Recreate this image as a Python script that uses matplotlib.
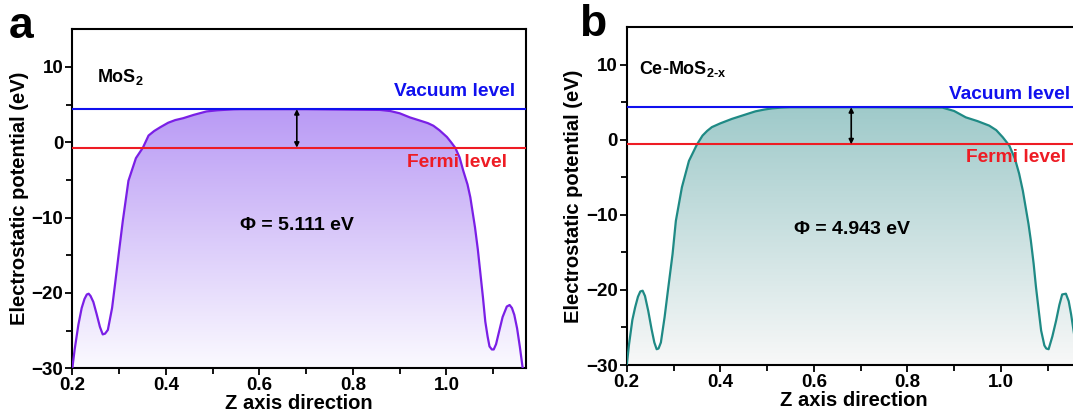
import numpy as np
import matplotlib
matplotlib.use("Agg")
import matplotlib.pyplot as plt
from matplotlib.colors import LinearSegmentedColormap

plt.rcParams['font.family'] = ['Liberation Sans', 'DejaVu Sans']
plt.rcParams['font.weight'] = 'bold'
plt.rcParams['mathtext.fontset'] = 'custom'
plt.rcParams['mathtext.rm'] = 'Liberation Sans:bold'
plt.rcParams['mathtext.it'] = 'Liberation Sans:bold'
plt.rcParams['mathtext.bf'] = 'Liberation Sans:bold'

# ---- data ----
# panel a : MoS2
z_a = [0.200, 0.205, 0.213, 0.220, 0.226, 0.231, 0.235, 0.239, 0.245, 0.252,
       0.259, 0.265, 0.270, 0.276, 0.285, 0.292, 0.300, 0.308, 0.320, 0.336,
       0.351, 0.363, 0.375, 0.388, 0.405, 0.420, 0.437, 0.460, 0.487, 0.510,
       0.523, 0.545, 0.560, 0.700, 0.858, 0.880, 0.900, 0.922, 0.945, 0.960,
       0.972, 0.985, 1.001, 1.010, 1.019, 1.028, 1.036, 1.045, 1.051, 1.056,
       1.061, 1.067, 1.072, 1.078, 1.083, 1.088, 1.092, 1.097, 1.101, 1.106,
       1.111, 1.120, 1.129, 1.135, 1.140, 1.145, 1.151, 1.157, 1.163]
v_a = [-30.0, -27.5, -24.2, -22.0, -20.8, -20.2, -20.1, -20.4, -21.2, -22.8,
       -24.5, -25.5, -25.4, -24.9, -22.0, -18.5, -14.4, -10.4, -5.1, -2.1,
       -0.7, 0.9, 1.5, 2.0, 2.6, 2.95, 3.2, 3.65, 4.1, 4.25,
       4.3, 4.38, 4.4, 4.4, 4.3, 4.15, 3.85, 3.3, 2.85, 2.55,
       2.2, 1.6, 0.7, 0.0, -0.75, -2.0, -3.8, -5.6, -7.3, -9.3,
       -11.3, -14.2, -17.1, -20.6, -23.8, -25.8, -27.1, -27.5, -27.5, -26.8,
       -25.5, -23.2, -21.8, -21.6, -22.0, -22.9, -24.7, -27.2, -30.0]
vac_a = 4.40
fermi_a = -0.71
phi_a = "5.111"

# panel b : Ce-MoS2-x
z_b = [0.200, 0.205, 0.212, 0.218, 0.224, 0.229, 0.234, 0.239, 0.246, 0.253,
       0.259, 0.264, 0.268, 0.273, 0.281, 0.288, 0.298, 0.305, 0.318, 0.333,
       0.350, 0.362, 0.372, 0.382, 0.400, 0.425, 0.450, 0.475, 0.495, 0.511,
       0.530, 0.550, 0.700, 0.875, 0.900, 0.925, 0.950, 0.975, 0.990, 1.004,
       1.018, 1.030, 1.039, 1.047, 1.053, 1.059, 1.064, 1.070, 1.075, 1.081,
       1.086, 1.093, 1.097, 1.102, 1.110, 1.118, 1.125, 1.131, 1.139, 1.145,
       1.150, 1.158, 1.165]
v_b = [-30.0, -27.2, -24.0, -22.3, -20.9, -20.2, -20.1, -20.8, -22.8, -25.2,
       -27.0, -27.9, -27.8, -27.0, -23.6, -20.1, -15.2, -10.8, -6.3, -2.8,
       -0.63, 0.57, 1.2, 1.7, 2.2, 2.8, 3.3, 3.8, 4.05, 4.2,
       4.3, 4.35, 4.35, 4.3, 3.85, 3.0, 2.5, 1.9, 1.3, 0.35,
       -0.76, -2.5, -4.5, -6.8, -9.0, -11.2, -13.4, -16.5, -19.6, -22.8,
       -25.4, -27.4, -27.8, -27.9, -26.2, -24.1, -22.0, -20.6, -20.5, -21.5,
       -23.2, -26.5, -30.0]
vac_b = 4.35
fermi_b = -0.59
phi_b = "4.943"

xlim = (0.2, 1.17)
ylim = (-30, 15)


def panel(ax, z, v, vac, fermi, line_c, top_c, bot_c):
    # gradient fill under the curve
    poly = ax.fill_between(z, v, ylim[0], facecolor='none', edgecolor='none')
    cmap = LinearSegmentedColormap.from_list('g', [bot_c, top_c])
    grad = np.linspace(0, 1, 256).reshape(-1, 1)
    im = ax.imshow(grad, cmap=cmap, origin='lower', aspect='auto',
                   extent=[xlim[0], xlim[1], ylim[0], max(v)], zorder=1)
    im.set_clip_path(poly.get_paths()[0], transform=ax.transData)
    ax.plot(z, v, color=line_c, lw=1.6, zorder=3, solid_joinstyle='round')
    ax.axhline(vac, color='#1010ee', lw=1.5, zorder=4)
    ax.axhline(fermi, color='#ee1c24', lw=1.5, zorder=4)
    ax.annotate('', xy=(0.68, vac), xytext=(0.68, fermi),
                arrowprops=dict(arrowstyle='<|-|>', color='black', lw=1.2,
                                mutation_scale=7, shrinkA=0, shrinkB=0),
                zorder=5)
    ax.set_xlim(*xlim)
    ax.set_ylim(*ylim)
    ax.set_xticks([0.2, 0.4, 0.6, 0.8, 1.0])
    ax.set_xticks([0.3, 0.5, 0.7, 0.9, 1.1], minor=True)
    ax.set_yticks([-30, -20, -10, 0, 10])
    ax.set_yticks([-25, -15, -5, 5], minor=True)
    ax.tick_params(which='both', direction='out', width=1.3, labelsize=13.5,
                   top=False, right=False)
    ax.tick_params(which='major', length=5, pad=1.5)
    ax.tick_params(which='minor', length=4)
    for lab in ax.get_xticklabels() + ax.get_yticklabels():
        lab.set_fontweight('bold')
    for s in ax.spines.values():
        s.set_linewidth(1.5)
    ax.set_xlabel('Z axis direction', fontsize=14.5, fontweight='bold',
                  labelpad=0)
    ax.set_ylabel('Electrostatic potential (eV)', fontsize=14.5,
                  fontweight='bold', labelpad=2)


fig = plt.figure(figsize=(10.73, 4.17), dpi=100)
ax1 = fig.add_axes([0.0674, 0.1168, 0.4228, 0.8129])
ax2 = fig.add_axes([0.5841, 0.1247, 0.4228, 0.8098])

panel(ax1, z_a, v_a, vac_a, fermi_a, '#7a1fe6', '#b99af5', '#fbfaff')
panel(ax2, z_b, v_b, vac_b, fermi_b, '#1f8a85', '#9fcaca', '#f8f8f8')

# labels inside panel a
ax1.text(0.252, 8.7, r'MoS$_{2}$', fontsize=13, fontweight='bold',
         va='center', ha='left', zorder=6)
ax1.text(1.147, 6.8, 'Vacuum level', color='#1010ee', fontsize=13.8,
         fontweight='bold', va='center', ha='right', zorder=6)
ax1.text(0.915, -2.7, 'Fermi level', color='#ee1c24', fontsize=13.8,
         fontweight='bold', va='center', ha='left', zorder=6)
ax1.text(0.681, -11.1, '\u03a6 = ' + phi_a + ' eV', fontsize=14,
         fontweight='bold', va='center', ha='center', zorder=6)

# labels inside panel b
ax2.text(0.226, 9.5, r'Ce-MoS$_{2\text{-}x}$', fontsize=13,
         fontweight='bold', va='center', ha='left', zorder=6)
ax2.text(0.889, 6.1, 'Vacuum level', color='#1010ee', fontsize=13.8,
         fontweight='bold', va='center', ha='left', zorder=6)
ax2.text(0.925, -2.4, 'Fermi level', color='#ee1c24', fontsize=13.8,
         fontweight='bold', va='center', ha='left', zorder=6)
ax2.text(0.681, -12.0, '\u03a6 = ' + phi_b + ' eV', fontsize=14,
         fontweight='bold', va='center', ha='center', zorder=6)

# panel letters
fig.text(0.008, 0.985, 'a', fontsize=32, fontweight='bold', va='top', ha='left')
fig.text(0.540, 0.99, 'b', fontsize=32, fontweight='bold', va='top', ha='left')

fig.savefig('out.png', dpi=100)
